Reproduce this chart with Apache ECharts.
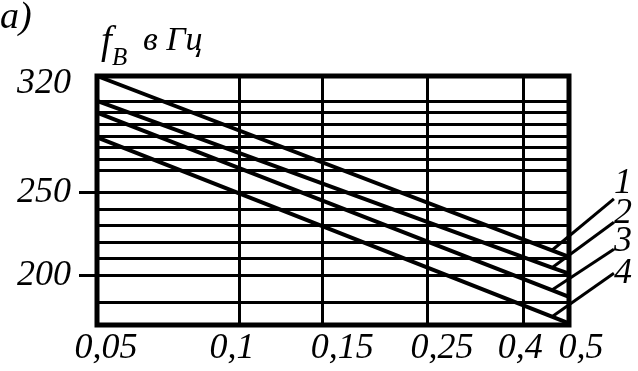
<!DOCTYPE html>
<html><head><meta charset="utf-8">
<script src="https://cdn.jsdelivr.net/npm/echarts@6/dist/echarts.min.js"></script>
<style>html,body{margin:0;padding:0;background:#fff}#c{width:638px;height:371px}</style>
</head><body><div id="c"></div>
<script>
// ---- data ----
const xTicks = [0.05, 0.1, 0.15, 0.25, 0.4, 0.5];
const yLabels = [320, 250, 200];
const yMarked = [250, 200];
const yGrid = [305, 298, 291, 284, 277, 270, 263, 250, 240, 230, 220, 210, 200, 184];
const xCurve = [0.05, 0.46, 0.5];
const curve1 = [320, 215, 211];
const curve2 = [305, 204.5, 201];
const curve3 = [298, 191, 187];
const curve4 = [283, 175, 171];
const curveNames = ['1', '2', '3', '4'];
const labelIndex = 1;

// ---- styling ----
const FONT = 'Liberation Serif';
const txt = (size) => ({ fontFamily: FONT, fontStyle: 'italic', fontWeight: 'normal', fontSize: size, color: '#000' });
const curves = [curve1, curve2, curve3, curve4];
// curve-number label styling (leader line goes to left-middle of padded label box)
const labelPadBottom = [30, 18, 15, 0];
const labelDy = [-13, -13, -10, -20];
const labelDx = 86;
// horizontal nudges of x tick labels (px)
const xLabelShift = [9, -7, 20, 15, -3, 12];

const series = curves.map((vals, i) => ({
  type: 'line',
  name: curveNames[i],
  z: 3,
  symbol: 'circle',
  symbolSize: 1,
  showSymbol: true,
  itemStyle: { color: '#000' },
  lineStyle: { color: '#000', width: 4 },
  labelLine: { show: true, lineStyle: { color: '#000', width: 3 } },
  labelLayout: () => ({ dx: labelDx, dy: labelDy[i] }),
  data: xCurve.map((x, j) => {
    const item = { value: [x, vals[j]] };
    if (j === labelIndex) {
      item.label = Object.assign({
        show: true, position: 'top', distance: 5,
        formatter: curveNames[i],
        lineHeight: 36,
        padding: [0, 30, labelPadBottom[i], 0],
        backgroundColor: 'rgba(0,0,0,0)'
      }, txt(36));
    }
    return item;
  })
}));

series.push({
  type: 'line',
  data: [],
  z: 1,
  markLine: {
    silent: true,
    animation: false,
    symbol: 'none',
    label: { show: false },
    lineStyle: { color: '#000', width: 3, type: 'solid' },
    data: yGrid.map(v => ({ yAxis: v })).concat(xTicks.slice(1, -1).map(v => ({ xAxis: v })))
  }
});

const fmtNum = v => String(+(+v).toPrecision(6)).replace('.', ',');
const xRich = {};
xLabelShift.forEach((s, k) => {
  xRich['p' + k] = Object.assign({ padding: s >= 0 ? [0, 0, 0, 2 * s] : [0, -2 * s, 0, 0] }, txt(36));
});
const xFormatter = v => {
  const val = +(+v).toPrecision(6);
  let k = xTicks.findIndex(t => Math.abs(t - val) < 1e-6);
  if (k < 0) return fmtNum(val);
  return '{p' + k + '|' + fmtNum(val) + '}';
};

const option = {
  animation: false,
  backgroundColor: '#fff',
  title: [
    { text: 'а)', left: 0, top: -1, padding: 0, textStyle: txt(38) },
    { text: 'f', left: 101, top: 23, padding: 0, textStyle: txt(39) },
    { text: 'B', left: 112, top: 46, padding: 0, textStyle: txt(25) },
    { text: 'в Гц', left: 143, top: 24, padding: 0, textStyle: txt(34) }
  ],
  grid: { left: 97, top: 76, width: 472, height: 249, show: true, borderColor: '#000', borderWidth: 5, backgroundColor: 'transparent' },
  xAxis: {
    type: 'log', logBase: 10, min: 0.05, max: 0.5,
    axisLine: { show: false }, axisTick: { show: false },
    splitLine: { show: false }, minorTick: { show: false }, minorSplitLine: { show: false },
    axisLabel: Object.assign({ customValues: xTicks, formatter: xFormatter, margin: 6, rich: xRich }, txt(36))
  },
  yAxis: {
    type: 'value', min: 170, max: 320,
    axisLine: { show: false }, splitLine: { show: false },
    axisTick: { show: true, customValues: yMarked, length: 18, lineStyle: { color: '#000', width: 3 } },
    axisLabel: Object.assign({
      customValues: yLabels, margin: 26,
      formatter: v => v === 320 ? '{t|320}' : String(v),
      rich: { t: Object.assign({ padding: [16, 0, 0, 0] }, txt(36)) }
    }, txt(36))
  },
  series
};

const chart = echarts.init(document.getElementById('c'), null, { renderer: 'canvas' });
chart.setOption(option);
</script>
</body></html>
